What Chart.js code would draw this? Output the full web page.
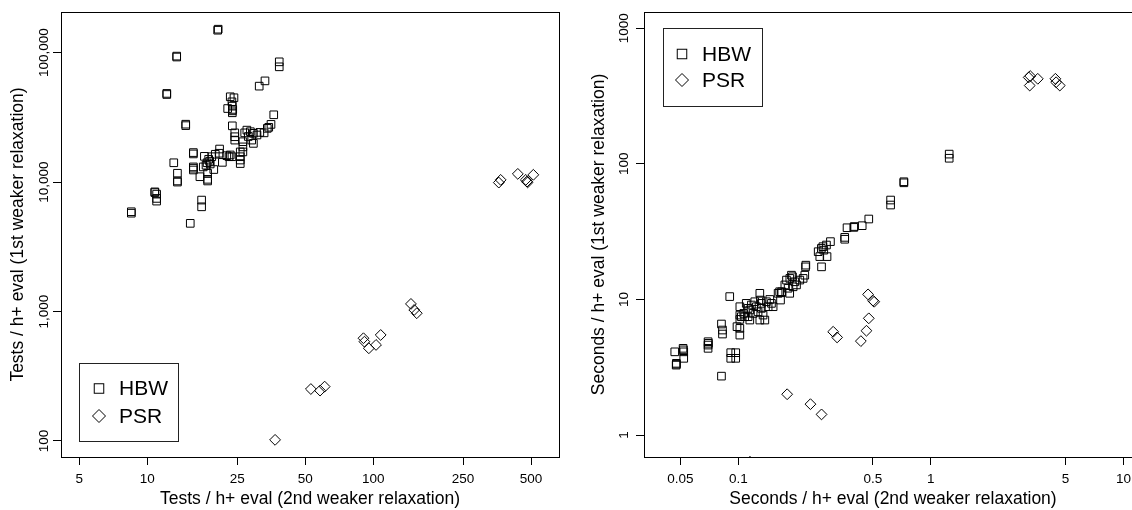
<!DOCTYPE html>
<html>
<head>
<meta charset="utf-8">
<script src="https://cdn.jsdelivr.net/npm/chart.js@4.4.1/dist/chart.umd.min.js"></script>
<style>
html,body{margin:0;padding:0;background:#fff;overflow:hidden;width:1132px;height:510px;}
#wrapL{position:absolute;left:0;top:0;width:566px;height:510px;}
#wrapR{position:absolute;left:566px;top:0;width:600px;height:510px;}
</style>
</head>
<body>
<div id="wrapL"><canvas id="left" width="566" height="510"></canvas></div>
<div id="wrapR"><canvas id="right" width="600" height="510"></canvas></div>
<script>
const FONT = '"Liberation Sans", Arial, Helvetica, sans-serif';

const seriesNames = ['HBW', 'PSR'];

// Left panel: tests per h+ evaluation
const leftHBW = [
  [20.6,151700],[20.5,149000],[13.5,94000],[13.5,92500],[12.2,48400],[12.2,47500],
  [14.8,28000],[14.8,27300],[38.4,84900],[38.4,77700],[33.2,60500],[31.3,55100],
  [23.3,45600],[24.2,44800],[23.7,41700],[23.8,38600],[23.9,36400],[23.8,34300],[22.7,37000],[23.8,35500],
  [36.3,33100],[35.3,27900],[34.0,26000],[32.9,24000],[34.5,26500],
  [27.6,25200],[28.6,24500],[29.5,23800],[30.6,23100],[29.0,21100],[29.5,19900],[27.0,24000],[31.5,24200],[28.0,22500],
  [23.8,27200],[24.4,24000],[24.4,22400],[24.4,21100],
  [26.5,20500],[26.5,18700],[26.5,17100],[25.8,17100],[25.8,15700],[25.8,14800],[25.8,13900],
  [23.3,16200],[23.7,15700],[23.0,15700],[22.5,16000],[20.9,18000],[20.8,16700],[21.5,14200],
  [20.0,16400],[19.3,15700],[18.7,15000],[18.4,14100],[19.0,13800],[19.7,12500],[18.5,11700],[18.5,10500],
  [17.1,11000],[17.7,13100],[18.5,10200],[17.9,15800],[18.2,13500],[18.9,14500],
  [16.0,16900],[16.0,16500],[16.0,13100],[16.0,12400],[16.0,12800],[13.1,14100],
  [13.6,11700],[13.6,10200],[13.6,10000],
  [10.8,8400],[10.8,8300],[11.0,8070],[11.0,7480],[11.0,7130],
  [8.5,5900],[8.5,5750],[17.4,7260],[17.4,6440],[15.5,4800]
];
const leftPSR = [
  [360,9910],[367,10400],[437,11570],[480,10090],[512,11380],[474,10400],[483,9950],
  [147,1145],[152,1029],[156,970],
  [90.6,622],[91.5,585],[95.7,520],[103,552],[108,659],
  [53,252],[58.2,245],[61,263],
  [36.8,102]
];
const leftXTicks = [5,10,25,50,100,250,500];
const leftXLabels = ['5','10','25','50','100','250','500'];
const leftYTicks = [100,1000,10000,100000];
const leftYLabels = ['100','1,000','10,000','100,000'];

// Right panel: seconds per h+ evaluation
const rightHBW = [
  [0.0468,4.11],[0.0477,3.38],[0.0476,3.28],[0.0477,3.33],
  [0.0517,4.36],[0.0521,4.11],[0.0521,3.68],[0.0519,4.25],
  [0.0697,4.88],[0.0697,4.61],[0.0697,4.36],[0.0700,4.75],
  [0.0818,6.59],[0.0828,5.95],[0.0828,5.56],[0.0818,2.72],[0.0903,10.5],
  [0.0914,4.05],[0.097,4.05],[0.0914,3.68],[0.097,3.68],
  [0.1019,8.84],[0.1019,7.67],[0.1019,7.13],[0.1019,6.12],[0.1019,5.46],[0.0985,6.3],
  [0.110,9.36],[0.1148,8.36],[0.1125,7.46],[0.1194,7.89],[0.1242,8.84],[0.1294,11.1],[0.1303,9.9],
  [0.1318,8.6],[0.1345,7.67],[0.1374,7.05],[0.140,9.62],[0.1429,8.84],[0.1487,9.36],[0.1517,8.84],
  [0.1068,7.89],[0.117,9.1],[0.1267,8.11],[0.1218,9.62],[0.1458,10.0],[0.1125,8.6],[0.1318,9.36],
  [0.1037,7.46],[0.1148,7.05],[0.1294,7.05],[0.108,7.46],
  [0.161,11.1],[0.164,11.4],[0.1676,11.2],[0.1657,9.9],[0.168,11.4],[0.185,11.1],
  [0.1745,12.8],[0.178,13.9],[0.1852,14.3],[0.1912,14.7],[0.1966,13.5],[0.2006,12.8],[0.1889,15.1],
  [0.1815,12.1],[0.1927,12.4],[0.2087,13.9],[0.2172,14.3],[0.2215,15.1],[0.2243,17.9],[0.2235,17.4],
  [0.2706,17.4],
  [0.301,26.7],[0.287,25.2],[0.27,23.8],[0.26,22.5],[0.265,20.7],[0.289,20.7],[0.278,23.1],[0.275,24.5],
  [0.357,28.7],[0.357,27.8],[0.367,33.8],[0.398,34],[0.40,34.5],[0.44,35],[0.476,39.2],
  [0.618,54.1],[0.618,49.7],[0.724,73.8],[0.724,72.5],[1.245,118],[1.245,110]
];
const rightPSR = [
  [3.22,434],[3.28,444],[3.59,424],[3.26,378],[4.43,424],[4.47,400],[4.67,378],
  [0.472,10.9],[0.501,9.78],[0.508,9.62],[0.476,7.26],[0.463,5.88],[0.433,4.93],
  [0.311,5.78],[0.326,5.25],
  [0.1794,2.0],[0.237,1.69],[0.2706,1.42],
  [0.115,0.636]
];
const rightXTicks = [0.05,0.1,0.5,1,5,10];
const rightXLabels = ['0.05','0.1','0.5','1','5','10'];
const rightYTicks = [1,10,100,1000];
const rightYLabels = ['1','10','100','1000'];

function toPts(arr) { return arr.map(p => ({x: p[0], y: p[1]})); }

const rPlot = {
  id: 'rPlot',
  afterDraw(chart, args, o) {
    const ctx = chart.ctx, a = chart.chartArea;
    ctx.save();
    ctx.strokeStyle = '#000';
    ctx.lineWidth = 1;
    ctx.strokeRect(Math.round(a.left) + 0.5, Math.round(a.top) + 0.5,
                   Math.round(a.right - a.left), Math.round(a.bottom - a.top));
    // rotated y tick labels
    const ys = chart.scales.y;
    ctx.fillStyle = '#000';
    ctx.font = o.tickSize + 'px ' + FONT;
    ctx.textAlign = 'center';
    ctx.textBaseline = 'middle';
    o.yTicks.forEach((v, i) => {
      const py = ys.getPixelForValue(v);
      ctx.save();
      ctx.translate(a.left - o.yLabelGap, py);
      ctx.rotate(-Math.PI / 2);
      ctx.fillText(o.yLabels[i], 0, 0);
      ctx.restore();
    });
    // legend
    const L = o.legend;
    const lx = Math.round(a.left + L.dx);
    const ly = Math.round(L.fromBottom ? a.bottom - L.dy - L.h : a.top + L.dy);
    ctx.fillStyle = '#fff';
    ctx.fillRect(lx, ly, L.w, L.h);
    ctx.strokeStyle = '#222';
    ctx.strokeRect(lx + 0.5, ly + 0.5, L.w, L.h);
    ctx.strokeStyle = '#000';
    const mx = lx + L.markX;
    const y1 = ly + L.row1, y2 = ly + L.row2;
    const s = L.sq / 2;
    ctx.strokeRect(mx - s, y1 - s, L.sq, L.sq);
    ctx.beginPath();
    ctx.moveTo(mx, y2 - L.dia); ctx.lineTo(mx + L.dia, y2);
    ctx.lineTo(mx, y2 + L.dia); ctx.lineTo(mx - L.dia, y2); ctx.closePath();
    ctx.stroke();
    ctx.fillStyle = '#000';
    ctx.font = L.size + 'px ' + FONT;
    ctx.textAlign = 'left';
    ctx.textBaseline = 'middle';
    ctx.fillText(seriesNames[0], lx + L.textX, y1 + 1);
    ctx.fillText(seriesNames[1], lx + L.textX, y2 + 1);
    ctx.restore();
  }
};

function makeChart(id, c) {
  const ds = (name, pts, style) => ({
    label: name, data: toPts(pts), pointStyle: style, pointRadius: 5.4, pointHoverRadius: 5.4,
    pointBorderColor: '#000', pointBackgroundColor: 'rgba(0,0,0,0)', pointBorderWidth: 1,
    borderColor: '#000', backgroundColor: 'rgba(0,0,0,0)', showLine: false, clip: 0
  });
  return new Chart(document.getElementById(id), {
    type: 'scatter',
    data: { datasets: [ds(seriesNames[0], c.hbw, 'rect'), ds(seriesNames[1], c.psr, 'rectRot')] },
    plugins: [rPlot],
    options: {
      responsive: false, animation: false, events: [],
      layout: { padding: { left: 0, right: c.padRight, top: 12, bottom: 0 } },
      plugins: {
        legend: { display: false }, tooltip: { enabled: false },
        rPlot: { yTicks: c.yTicks, yLabels: c.yLabels, yLabelGap: c.yLabelGap, tickSize: 13.5, legend: c.legend }
      },
      scales: {
        x: {
          type: 'logarithmic', min: c.xMin, max: c.xMax, bounds: 'data',
          afterBuildTicks: s => { s.ticks = c.xTicks.map(v => ({value: v})); },
          afterFit: s => { s.height = 53; },
          ticks: { autoSkip: false, maxRotation: 0, minRotation: 0, padding: 6.4, color: '#000',
                   font: { family: FONT, size: 13.5 }, callback: (v, i) => c.xLabels[i] },
          grid: { display: true, drawOnChartArea: false, drawTicks: true, tickLength: 8, color: '#000', lineWidth: 1 },
          border: { display: true, color: '#000', width: 1 },
          title: { display: true, text: c.xTitle, color: '#000', font: { family: FONT, size: 17.5 }, padding: { top: 0, bottom: 0 } }
        },
        y: {
          type: 'logarithmic', min: c.yMin, max: c.yMax, bounds: 'data',
          afterBuildTicks: s => { s.ticks = c.yTicks.map(v => ({value: v})); },
          afterFit: s => { s.width = c.yWidth; },
          ticks: { display: false },
          grid: { display: true, drawOnChartArea: false, drawTicks: true, tickLength: 8, color: '#000', lineWidth: 1 },
          border: { display: true, color: '#000', width: 1 },
          title: { display: true, text: c.yTitle, color: '#000', font: { family: FONT, size: 17.5 }, padding: { top: c.yTitlePad, bottom: 0 } }
        }
      }
    }
  });
}

makeChart('left', {
  hbw: leftHBW, psr: leftPSR,
  xTicks: leftXTicks, xLabels: leftXLabels, yTicks: leftYTicks, yLabels: leftYLabels,
  xMin: 4.15, xMax: 665, yMin: 75.2, yMax: 206000,
  xTitle: 'Tests / h+ eval (2nd weaker relaxation)',
  yTitle: 'Tests / h+ eval (1st weaker relaxation)',
  yWidth: 61, padRight: 7, yLabelGap: 17, yTitlePad: 7.5,
  legend: { fromBottom: true, dx: 18, dy: 16, w: 99, h: 78, markX: 20, row1: 25.5, row2: 53, textX: 40, sq: 9.5, dia: 6.5, size: 21 }
});

makeChart('right', {
  hbw: rightHBW, psr: rightPSR,
  xTicks: rightXTicks, xLabels: rightXLabels, yTicks: rightYTicks, yLabels: rightYLabels,
  xMin: 0.0324, xMax: 12.48, yMin: 0.689, yMax: 1318,
  xTitle: 'Seconds / h+ eval (2nd weaker relaxation)',
  yTitle: 'Seconds / h+ eval (1st weaker relaxation)',
  yWidth: 78, padRight: 24, yLabelGap: 20, yTitlePad: 23,
  legend: { fromBottom: false, dx: 19, dy: 16, w: 99, h: 78, markX: 19, row1: 26, row2: 52, textX: 39, sq: 9.5, dia: 6.5, size: 21 }
});
</script>
</body>
</html>
